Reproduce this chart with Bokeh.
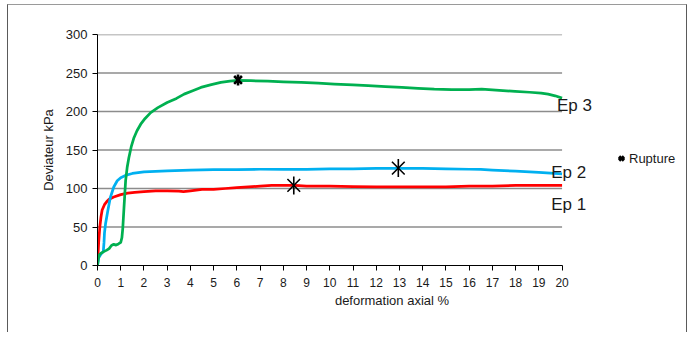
import numpy as np
from bokeh.plotting import figure
from bokeh.models import Range1d, FixedTicker, Label, Legend, LegendItem
from bokeh.embed import file_html
from bokeh.resources import INLINE

# ---- data ----
ep1_x = [0, 0.05, 0.1, 0.15, 0.2, 0.3, 0.4, 0.5, 0.7, 1.0, 1.3, 1.6, 2.0, 2.5, 3.0, 3.5, 3.7, 4.0, 4.5,
         5.0, 5.5, 6.0, 6.5, 7.0, 7.5, 8.0, 8.5, 9, 10, 11, 12, 13, 14, 15, 16, 17, 18, 19, 20]
ep1_y = [0, 30, 50, 63, 72, 79, 83, 86, 89, 92, 94, 95, 96, 97, 97, 96.5, 96, 97, 99,
         99, 100, 101, 102, 103, 104, 104, 104, 103, 103, 102.5, 102, 102, 102, 102, 103, 103, 104, 104, 104]

ep2_x = [0, 0.05, 0.15, 0.25, 0.28, 0.3, 0.35, 0.45, 0.55, 0.7, 0.85, 1.0, 1.2, 1.5, 2.0, 3.0, 4.0,
         5.0, 6.0, 7.0, 8.0, 9.0, 10.0, 11.0, 12.0, 13.0, 14.0, 15.0, 16.0, 16.5, 17.0, 18.0, 19.0, 20.0]
ep2_y = [0, 10, 15, 18, 30, 42, 55, 72, 88, 102, 110, 114, 117, 119.5, 121.5, 123, 124,
         124.5, 124.5, 125, 125, 125, 125.5, 125.5, 126, 126, 126, 125.5, 125, 124.8, 124, 122.5, 121, 119]

ep3_x = [0, 0.03, 0.08, 0.15, 0.27, 0.4, 0.5, 0.6, 0.7, 0.8, 0.9, 1.0, 1.05, 1.09, 1.14, 1.21, 1.28,
         1.35, 1.45, 1.57, 1.7, 1.86, 2.05, 2.29, 2.6, 3.0, 3.4, 3.73, 4.1, 4.45, 4.9, 5.31, 5.7, 6.05,
         6.6, 7.33, 8.0, 8.77, 9.5, 10.2, 11.0, 11.65, 12.4, 13.1, 13.8, 14.5, 15.25, 16.0, 16.54,
         17.3, 17.98, 18.6, 19.1, 19.4, 19.7, 20]
ep3_y = [0, 8, 14, 16, 18, 20, 22, 26, 27.5, 26.5, 28, 30, 36, 49, 75, 110, 128,
         140, 154, 166, 175, 183.5, 191, 198.6, 205, 211.7, 217, 222.6, 227, 231.3, 235, 237.8, 239.5, 240.5,
         240, 239.5, 238.5, 237.8, 236.8, 235.7, 234.5, 233.5, 232.3, 231.3, 230, 229, 228.5, 228.5, 229,
         227.5, 226, 225, 224, 222.5, 220.4, 217.4]

rupture_big_x = [8.45, 12.95]
rupture_big_y = [104, 126.5]
rupture_small_x = [6.05]
rupture_small_y = [241]

x_ticks = list(range(0, 21))
y_ticks = [0, 50, 100, 150, 200, 250, 300]
x_axis_end = 20

series_names = ["Ep 1", "Ep 2", "Ep 3"]
series_colors = ["#FF0000", "#00B0F0", "#00B050"]

FONT = "Liberation Sans"

# layout: the axis covers 0..20 over 463 px; the frame extends further right
OFF_L, OFF_T = 7, 4
W, H = 687 - OFF_L, 332 - OFF_T
ML, MR, MT, MB = 96 - OFF_L, 2, 33 - OFF_T, 68
frame_w = W - 2 - ML - MR
x_max = 20.0 * frame_w / 463.0

p = figure(width=W, height=H, output_backend="svg", toolbar_location=None,
           x_range=Range1d(0, x_max), y_range=Range1d(0, 300),
           min_border_left=ML, min_border_right=MR, min_border_top=MT, min_border_bottom=MB)
p.styles = {"border-left": "1px solid #5a5a5a", "border-right": "1px solid #5a5a5a",
            "border-top": "1px solid #9a9a9a", "margin-left": f"{OFF_L}px", "margin-top": f"{OFF_T}px"}
p.outline_line_color = None
p.background_fill_color = "white"
p.border_fill_color = "white"

# horizontal gridlines only across the 0..20 axis span
p.xgrid.visible = False
p.ygrid.visible = False
grid_y = [t for t in y_ticks if t > 0]
p.segment(x0=[0] * len(grid_y), x1=[x_axis_end] * len(grid_y), y0=grid_y, y1=grid_y,
          line_color="#8c8c8c", line_width=1.5)

p.xaxis.ticker = FixedTicker(ticks=x_ticks)
p.yaxis.ticker = FixedTicker(ticks=y_ticks)
p.xaxis.bounds = (0, x_axis_end)
for ax in (p.xaxis[0], p.yaxis[0]):
    ax.axis_line_color = "black"
    ax.axis_line_width = 1
    ax.major_tick_line_color = "black"
    ax.major_tick_in = 0
    ax.major_tick_out = 5
    ax.minor_tick_line_color = None
    ax.major_label_text_font = FONT
    ax.major_label_text_color = "#1a1a1a"
    ax.axis_label_text_font = FONT
    ax.axis_label_text_font_style = "normal"
    ax.axis_label_text_color = "#1a1a1a"
    ax.axis_label_text_font_size = "13px"

p.xaxis.major_label_text_font_size = "12px"
p.yaxis.major_label_text_font_size = "13px"
p.xaxis.major_label_standoff = 7
p.yaxis.major_label_standoff = 5
p.xaxis.axis_label = "deformation axial %"
p.yaxis.axis_label = "Deviateur kPa"
p.xaxis.axis_label_standoff = 3
p.yaxis.axis_label_standoff = 7

for xs, ys, c in zip([ep1_x, ep2_x, ep3_x], [ep1_y, ep2_y, ep3_y], series_colors):
    p.line(xs, ys, line_color=c, line_width=2.75, line_join="round")

# rupture markers (6-arm star: x plus a vertical bar)
p.scatter(rupture_big_x, rupture_big_y, marker="x", size=18, line_color="black", line_width=1.6)
p.scatter(rupture_big_x, rupture_big_y, marker="dash", size=18, angle=np.pi / 2,
          line_color="black", line_width=1.6)
rs1 = p.scatter(rupture_small_x, rupture_small_y, marker="x", size=11, line_color="black", line_width=2.6)
rs2 = p.scatter(rupture_small_x, rupture_small_y, marker="dash", size=11, angle=np.pi / 2,
                line_color="black", line_width=2.6)

legend = Legend(items=[LegendItem(label="Rupture", renderers=[rs1, rs2])],
                location=(516, 97), orientation="vertical",
                glyph_width=16, glyph_height=20, label_standoff=0, padding=0, margin=0, spacing=0,
                border_line_color=None, background_fill_alpha=0,
                label_text_font=FONT, label_text_font_size="13px", label_text_color="#1a1a1a")
p.add_layout(legend, "center")

# series labels at the right end
label_pos = [(19.53, 79.2), (19.53, 120.4), (19.78, 207.4)]
for name, (lx, ly) in zip(series_names, label_pos):
    p.add_layout(Label(x=lx, y=ly, text=name, text_font=FONT, text_font_size="17px",
                       text_color="#1a1a1a", text_baseline="alphabetic", text_align="left"))

open("out.html", "w").write(file_html(p, INLINE))
